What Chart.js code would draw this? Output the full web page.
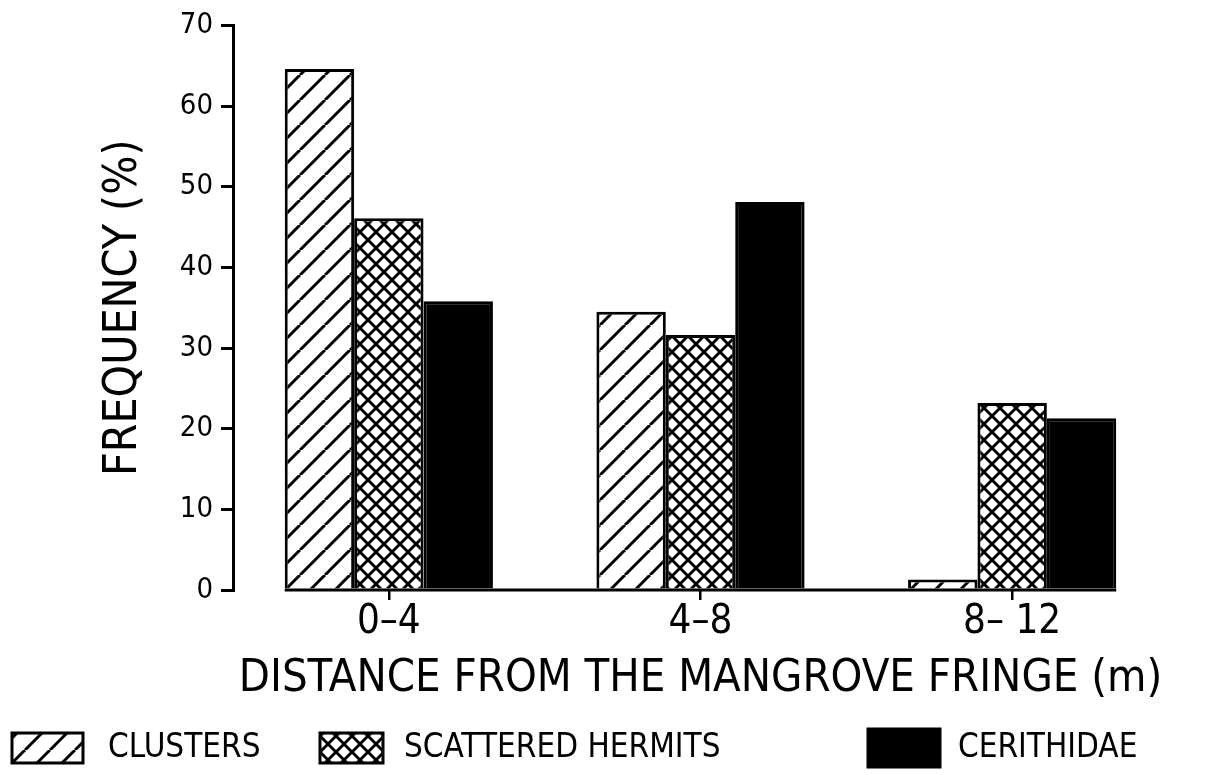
<!DOCTYPE html>
<html>
<head>
<meta charset="utf-8">
<script src="https://cdn.jsdelivr.net/npm/chart.js@4.4.0/dist/chart.umd.min.js"></script>
<style>
html, body { margin: 0; padding: 0; background: #fff; }
#wrap { width: 1218px; height: 775px; }
</style>
</head>
<body>
<div id="wrap"><canvas id="freq-chart"></canvas></div>
<script>
// values (frequency, %)
const distances = ['0–4', '4–8', '8– 12'];
const seriesNames = ['CLUSTERS', 'SCATTERED HERMITS', 'CERITHIDAE'];
const clusters = [64.6, 34.5, 1.3];
const scatteredHermits = [46.1, 31.6, 23.2];
const cerithidae = [35.8, 48.1, 21.3];
const yTicks = [0, 10, 20, 30, 40, 50, 60, 70];

const FONT = "'DejaVu Sans Condensed', 'Liberation Sans Narrow', 'DejaVu Sans', sans-serif";

var ctx = document.getElementById('freq-chart').getContext('2d');

// hatch fills: single diagonal for clusters, cross for hermits
function hatch(size, both) {
    const c = document.createElement('canvas');
    c.width = size;
    c.height = size;
    const g = c.getContext('2d');
    g.fillStyle = '#fff';
    g.fillRect(0, 0, size, size);
    g.strokeStyle = '#000';
    g.lineWidth = 3;
    for (let k = -1; k <= 1; k++) {
        g.beginPath();
        g.moveTo(k * size, size);
        g.lineTo(k * size + size, 0);
        g.stroke();
        if (both) {
            g.beginPath();
            g.moveTo(k * size, 0);
            g.lineTo(k * size + size, size);
            g.stroke();
        }
    }
    return ctx.createPattern(c, 'repeat');
}

const fills = [hatch(25, false), hatch(16, true), '#000'];

// baseline only runs under the bars, not back to the y axis
const baseline = {
    id: 'baseline',
    afterDatasetsDraw(chart) {
        const c = chart.ctx;
        const first = chart.getDatasetMeta(0).data[0];
        const lastMeta = chart.getDatasetMeta(chart.data.datasets.length - 1);
        const last = lastMeta.data[lastMeta.data.length - 1];
        const y = chart.scales.y.getPixelForValue(0);
        c.save();
        c.strokeStyle = '#000';
        c.lineWidth = 3;
        c.beginPath();
        c.moveTo(first.x - first.width / 2, y);
        c.lineTo(last.x + last.width / 2, y);
        c.stroke();
        c.restore();
    }
};

// legend row spread across the bottom like the original
const legendRow = {
    id: 'legendRow',
    afterDraw(chart) {
        const c = chart.ctx;
        const slots = [
            { box: 12, w: 71, h: 30, text: 108 },
            { box: 320, w: 63, h: 30, text: 404 },
            { box: 868, w: 72, h: 38, text: 958 }
        ];
        const midY = 748;
        c.save();
        c.font = '33px ' + FONT;
        c.textBaseline = 'middle';
        chart.data.datasets.forEach((ds, i) => {
            const s = slots[i];
            c.fillStyle = ds.backgroundColor;
            c.fillRect(s.box, midY - s.h / 2, s.w, s.h);
            c.strokeStyle = '#000';
            c.lineWidth = 3;
            c.strokeRect(s.box, midY - s.h / 2, s.w, s.h);
            c.fillStyle = '#000';
            c.fillText(ds.label, s.text, midY);
        });
        c.restore();
    }
};

Chart.defaults.color = '#000';
Chart.defaults.font.family = FONT;

new Chart(ctx, {
    type: 'bar',
    data: {
        labels: distances,
        datasets: [
            { label: seriesNames[0], data: clusters, backgroundColor: fills[0] },
            { label: seriesNames[1], data: scatteredHermits, backgroundColor: fills[1] },
            { label: seriesNames[2], data: cerithidae, backgroundColor: fills[2] }
        ]
    },
    options: {
        responsive: true,
        maintainAspectRatio: false,
        animation: false,
        layout: { padding: { top: 20, right: 50, bottom: 65, left: 0 } },
        datasets: {
            bar: {
                barPercentage: 1,
                categoryPercentage: 0.668,
                borderColor: '#000',
                borderWidth: 3
            }
        },
        plugins: {
            legend: { display: false },
            tooltip: { enabled: false }
        },
        scales: {
            x: {
                border: { display: false },
                grid: {
                    drawOnChartArea: false,
                    offset: false,
                    tickLength: 10,
                    lineWidth: 2.5,
                    color: '#000'
                },
                ticks: { font: { size: 40, lineHeight: 1 }, padding: 3 },
                title: {
                    display: true,
                    text: 'DISTANCE FROM THE MANGROVE FRINGE (m)',
                    font: { size: 45 },
                    padding: { top: 0, bottom: 4 }
                },
                afterFit: (s) => { s.height = 120; }
            },
            y: {
                min: 0,
                max: 70,
                afterBuildTicks: (s) => { s.ticks = yTicks.map(v => ({ value: v })); },
                border: { display: true, color: '#000', width: 3 },
                grid: {
                    drawOnChartArea: false,
                    tickLength: 12,
                    lineWidth: 3,
                    color: '#000'
                },
                ticks: { font: { size: 29 }, padding: 8 },
                title: {
                    display: true,
                    text: 'FREQUENCY (%)',
                    font: { size: 46 },
                    padding: { top: 96, bottom: 0 }
                },
                afterFit: (s) => { s.width = 233; }
            }
        }
    },
    plugins: [baseline, legendRow]
});
</script>
</body>
</html>
